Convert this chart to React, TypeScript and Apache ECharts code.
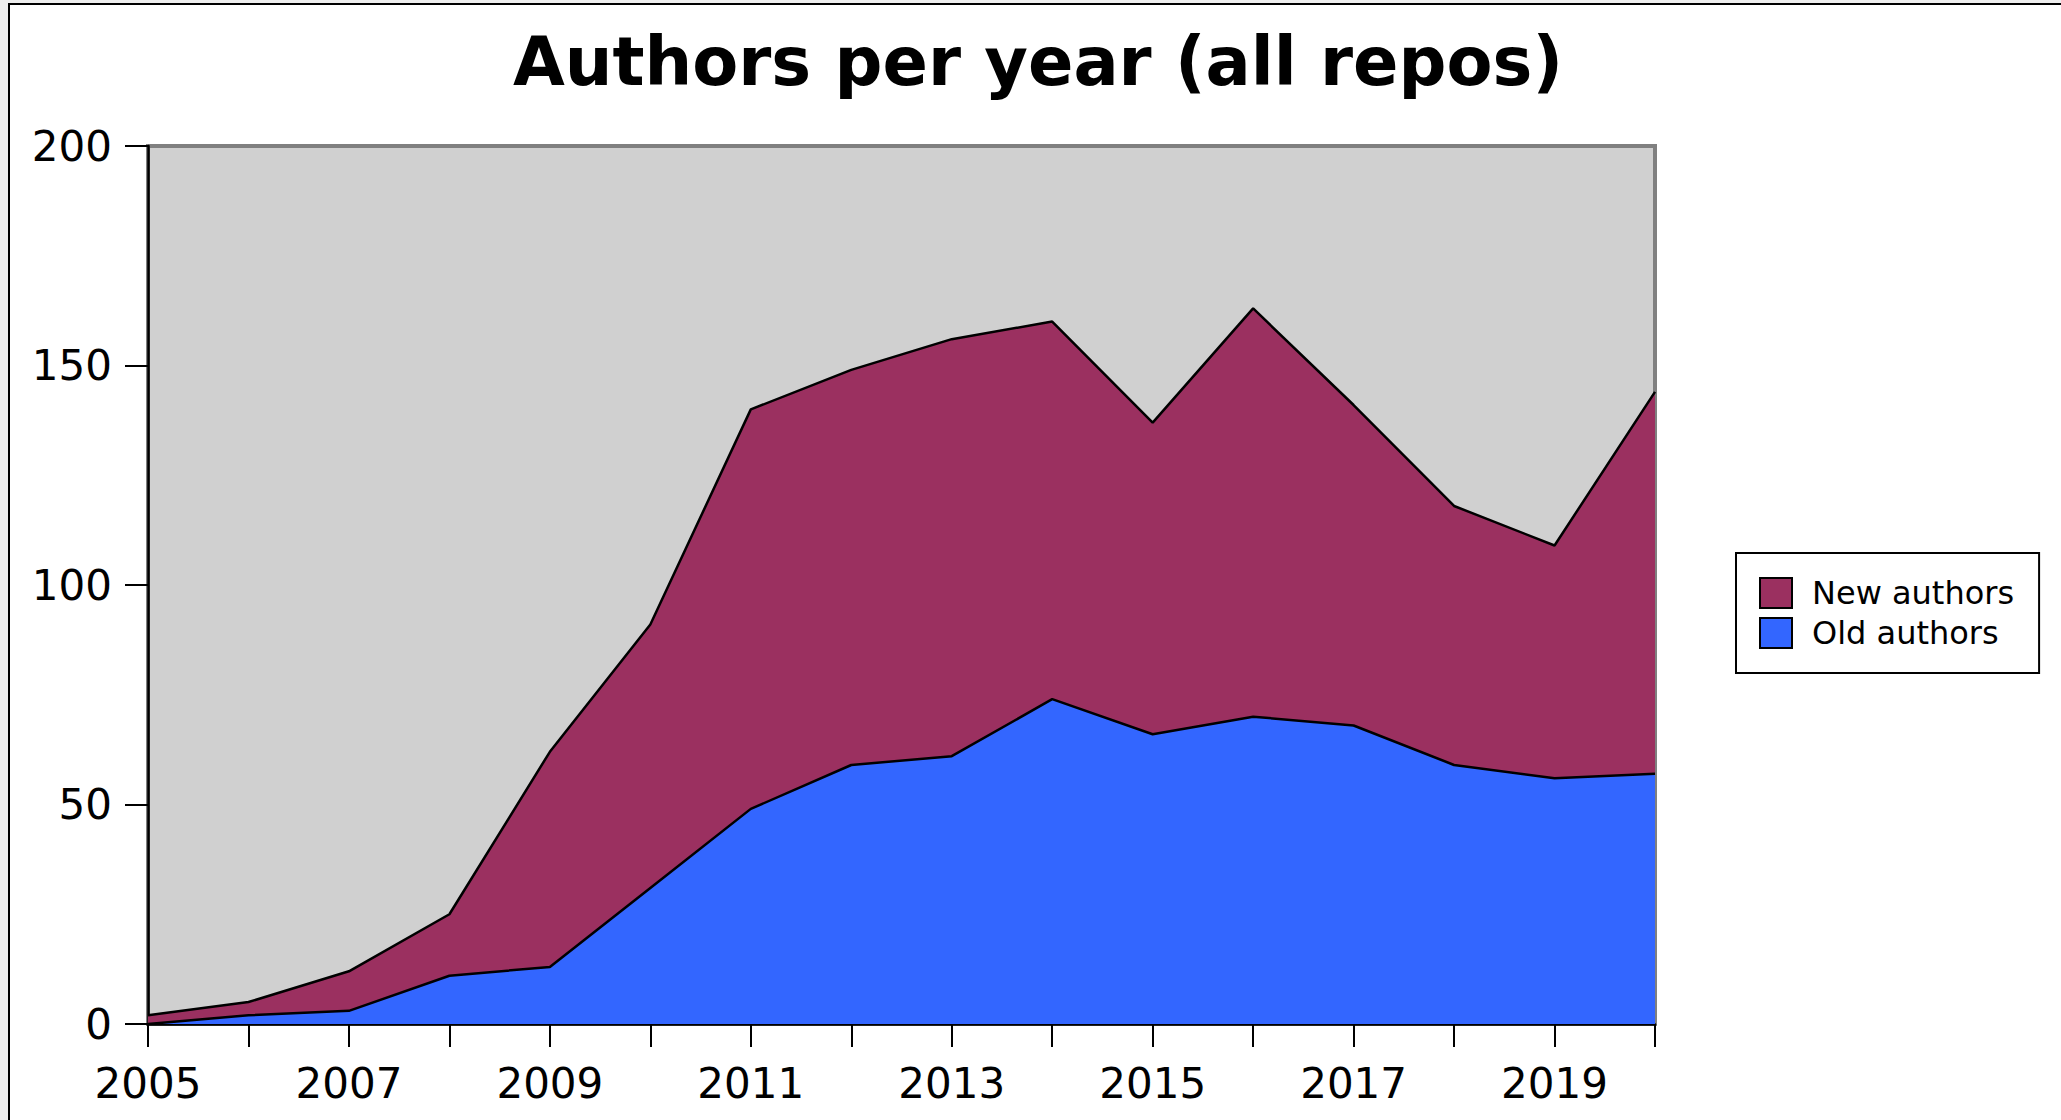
import React, { useEffect, useRef } from "react";
import * as echarts from "echarts";

const years = ["2005", "2006", "2007", "2008", "2009", "2010", "2011", "2012", "2013", "2014", "2015", "2016", "2017", "2018", "2019", "2020"];
const oldAuthors = [0, 2, 3, 11, 13, 31, 49, 59, 61, 74, 66, 70, 68, 59, 56, 57];
const newAuthors = [2, 3, 9, 14, 49, 60, 91, 90, 95, 86, 71, 93, 73, 59, 53, 87];
const yTicks = [0, 50, 100, 150, 200];
const titleText = "Authors per year (all repos)";
const seriesNames = ["New authors", "Old authors"];

const FONT = "DejaVu Sans";

export default function App() {
  const ref = useRef<HTMLDivElement>(null);
  useEffect(() => {
    if (!ref.current) return;
    const chart = echarts.init(ref.current, null, { renderer: "svg" });
    chart.setOption({
      animation: false,
      backgroundColor: "#eeeeee",
      graphic: [
        {
          type: "rect",
          z: -100,
          silent: true,
          shape: { x: 9, y: 4, width: 2200, height: 1300 },
          style: { fill: "#ffffff", stroke: "#000000", lineWidth: 2 },
        },
        {
          type: "text",
          x: 1038,
          y: 62,
          style: {
            text: titleText,
            fill: "#000",
            font: `bold 67px "${FONT}"`,
            textAlign: "center",
            textVerticalAlign: "middle",
          },
        },
      ],
      grid: {
        left: 148,
        top: 146,
        width: 1507,
        height: 878,
        show: true,
        backgroundColor: "#d0d0d0",
        borderColor: "#808080",
        borderWidth: 4,
      },
      legend: {
        data: seriesNames,
        orient: "vertical",
        left: 1736,
        top: 553,
        padding: [24, 25, 24, 23],
        itemWidth: 32,
        itemHeight: 30,
        itemGap: 8,
        icon: "rect",
        borderColor: "#000",
        borderWidth: 2,
        backgroundColor: "#fff",
        itemStyle: { borderColor: "#000", borderWidth: 2 },
        textStyle: { fontFamily: FONT, fontSize: 32, color: "#000", padding: [0, 0, 0, 15] },
      },
      xAxis: {
        type: "category",
        data: years,
        boundaryGap: false,
        axisLine: { show: true, onZero: false, lineStyle: { color: "#000", width: 2.5 } },
        axisTick: { show: true, interval: 0, length: 23, lineStyle: { color: "#000", width: 2 } },
        splitLine: { show: false },
        axisLabel: {
          interval: 1,
          margin: 38,
          fontFamily: FONT,
          fontSize: 42,
          color: "#000",
          verticalAlign: "top",
        },
      },
      yAxis: {
        type: "value",
        min: yTicks[0],
        max: yTicks[yTicks.length - 1],
        interval: yTicks[1] - yTicks[0],
        axisLine: { show: true, lineStyle: { color: "#000", width: 2.5 } },
        axisTick: { show: true, length: 23, lineStyle: { color: "#000", width: 2 } },
        splitLine: { show: false },
        axisLabel: { margin: 36, fontFamily: FONT, fontSize: 42, color: "#000" },
      },
      series: [
        {
          name: "Old authors",
          type: "line",
          stack: "total",
          data: oldAuthors,
          color: "#3366ff",
          showSymbol: false,
          z: 4,
          lineStyle: { color: "#000", width: 2.5 },
          areaStyle: { color: "#3366ff", opacity: 1 },
        },
        {
          name: "New authors",
          type: "line",
          stack: "total",
          data: newAuthors,
          color: "#9b3060",
          showSymbol: false,
          z: 3,
          lineStyle: { color: "#000", width: 2.5 },
          areaStyle: { color: "#9b3060", opacity: 1 },
        },
      ],
    });
    return () => chart.dispose();
  }, []);
  return (
    <div
      ref={ref}
      style={{ position: "fixed", left: 0, top: 0, width: 2061, height: 1120 }}
    />
  );
}
